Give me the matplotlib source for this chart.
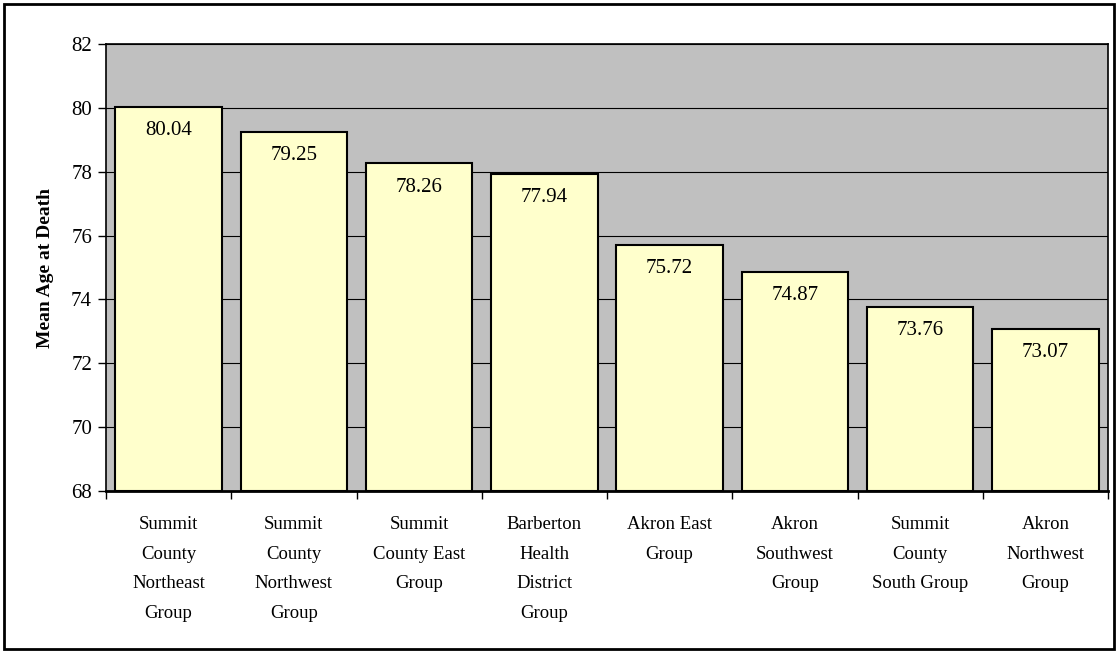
import matplotlib.pyplot as plt
from matplotlib.patches import Rectangle

plt.rcParams['font.family'] = ['Liberation Serif', 'DejaVu Serif']

groups = ["Summit\nCounty\nNortheast\nGroup", "Summit\nCounty\nNorthwest\nGroup",
          "Summit\nCounty East\nGroup", "Barberton\nHealth\nDistrict\nGroup",
          "Akron East\nGroup", "Akron\nSouthwest\nGroup", "Summit\nCounty\nSouth Group",
          "Akron\nNorthwest\nGroup"]
mean_age = [80.04, 79.25, 78.26, 77.94, 75.72, 74.87, 73.76, 73.07]
y_ticks = [68, 70, 72, 74, 76, 78, 80, 82]

fig = plt.figure(figsize=(11.18, 6.53), dpi=100)
ax = fig.add_axes([106 / 1118, 1 - 491 / 653, 1002 / 1118, 447 / 653])
ax.set_facecolor("#C0C0C0")

x = range(len(groups))
ax.bar(x, [v - 68 for v in mean_age], bottom=68, width=0.85, color="#FFFFCC",
       edgecolor="black", linewidth=1.5, zorder=3)
for i, v in enumerate(mean_age):
    ax.text(i, v - 0.45, f"{v:.2f}", ha="center", va="top", fontsize=15, zorder=4)

ax.set_ylim(68, 82)
ax.set_xlim(-0.5, len(groups) - 0.5)
ax.set_yticks(y_ticks)
ax.yaxis.grid(True, color="black", linewidth=0.8, zorder=0)
ax.set_axisbelow(True)
ax.tick_params(axis="y", labelsize=15, length=6, width=1, direction="out", pad=4)

ax.set_xticks([i + 0.5 for i in range(-1, len(groups))])
ax.set_xticklabels([])
ax.tick_params(axis="x", length=6, width=1, direction="out")
ax.set_xticks(list(x), minor=True)
ax.set_xticklabels(groups, minor=True, fontsize=13.5, linespacing=1.98, va="top")
ax.tick_params(axis="x", which="minor", length=0, pad=18)

ax.set_ylabel("Mean Age at Death", fontsize=14, fontweight="bold", labelpad=12)
for s in ax.spines.values():
    s.set_linewidth(1.2)
ax.spines["bottom"].set_linewidth(2)

fig.patches.append(Rectangle((4 / 1118, 4 / 653), 1110 / 1118, 645 / 653, transform=fig.transFigure,
                             fill=False, edgecolor="black", linewidth=2))

fig.savefig("out.png", dpi=100)
